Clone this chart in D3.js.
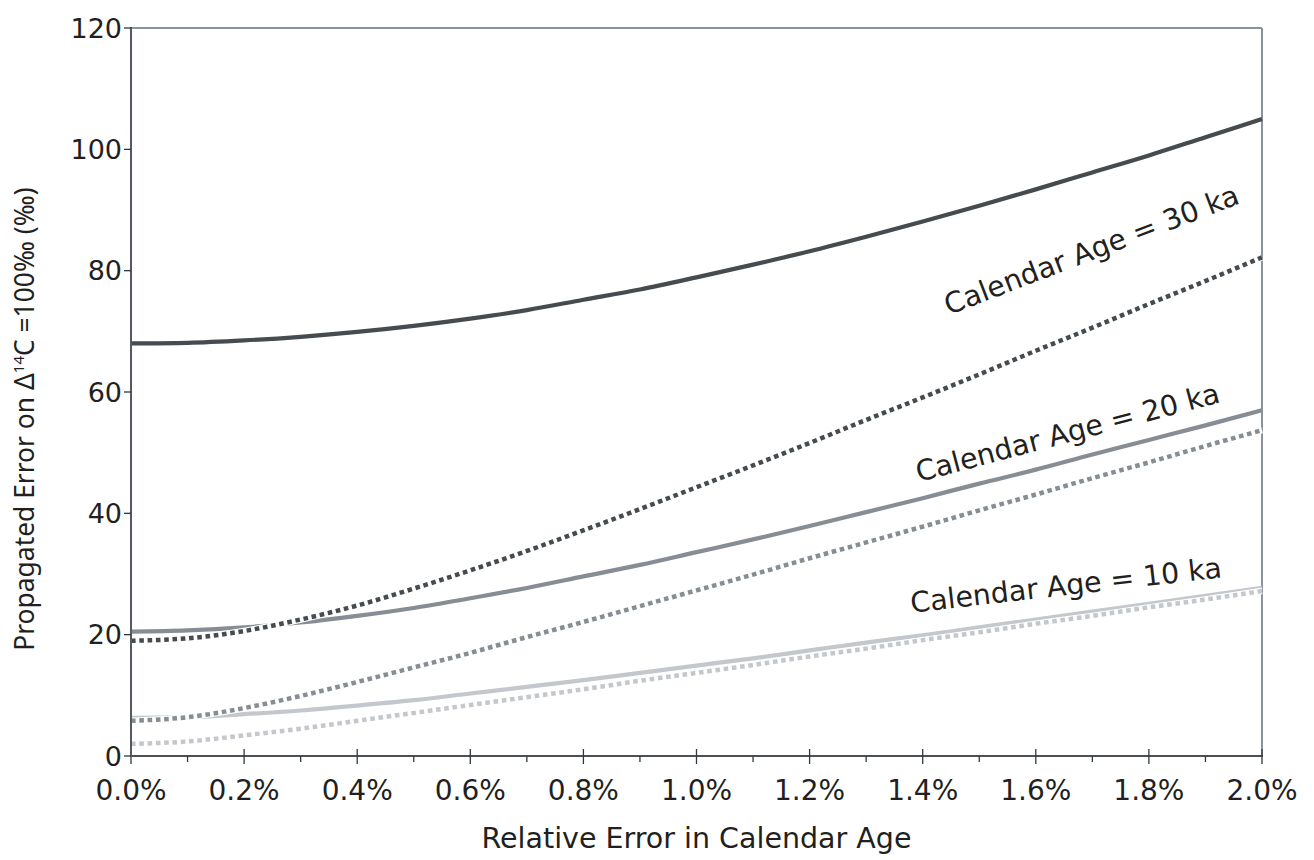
<!DOCTYPE html>
<html>
<head>
<meta charset="utf-8">
<script src="https://cdn.jsdelivr.net/npm/d3@7"></script>
<style>
  html, body { margin: 0; padding: 0; background: #fff; }
  svg { display: block; }
</style>
</head>
<body>
<svg id="chart" width="1314" height="860"></svg>
<script>
// Relative error in calendar age (%), sampled every 0.1 %
const relErr = [0.0, 0.1, 0.2, 0.3, 0.4, 0.5, 0.6, 0.7, 0.8, 0.9, 1.0,
                1.1, 1.2, 1.3, 1.4, 1.5, 1.6, 1.7, 1.8, 1.9, 2.0];

// Propagated error on Δ14C (‰) – solid and dotted curve per calendar age
const age30Solid  = [68.0, 68.1, 68.5, 69.1, 69.9, 70.9, 72.1, 73.5, 75.2, 76.9, 78.9,
                     81.0, 83.2, 85.6, 88.1, 90.7, 93.4, 96.2, 99.0, 102.0, 105.0];
const age30Dotted = [19.0, 19.4, 20.6, 22.5, 24.8, 27.6, 30.6, 33.8, 37.2, 40.7, 44.3,
                     47.9, 51.6, 55.4, 59.1, 62.9, 66.8, 70.6, 74.5, 78.3, 82.2];
const age20Solid  = [20.5, 20.7, 21.2, 22.0, 23.1, 24.4, 26.0, 27.7, 29.6, 31.5, 33.6,
                     35.7, 37.9, 40.2, 42.5, 44.9, 47.2, 49.7, 52.1, 54.5, 57.0];
const age20Dotted = [5.8, 6.4, 7.9, 9.9, 12.2, 14.6, 17.0, 19.6, 22.1, 24.7, 27.3,
                     29.9, 32.6, 35.2, 37.8, 40.5, 43.1, 45.8, 48.4, 51.1, 53.7];
const age10Solid  = [6.3, 6.4, 6.9, 7.5, 8.3, 9.2, 10.3, 11.4, 12.5, 13.7, 14.9,
                     16.1, 17.4, 18.7, 19.9, 21.2, 22.5, 23.8, 25.1, 26.4, 27.7];
const age10Dotted = [2.0, 2.4, 3.4, 4.5, 5.8, 7.1, 8.4, 9.7, 11.0, 12.4, 13.7,
                     15.0, 16.4, 17.7, 19.1, 20.4, 21.8, 23.1, 24.5, 25.8, 27.2];

const xTickValues = [0.0, 0.2, 0.4, 0.6, 0.8, 1.0, 1.2, 1.4, 1.6, 1.8, 2.0];
const xMinorTicks = [0.1, 0.3, 0.5, 0.7, 0.9, 1.1, 1.3, 1.5, 1.7, 1.9];
const yTickValues = [0, 20, 40, 60, 80, 100, 120];

const curveLabels = ["Calendar Age = 30 ka", "Calendar Age = 20 ka", "Calendar Age = 10 ka"];

const svg = d3.select("#chart");
const m = { left: 131, right: 1262, top: 28, bottom: 756 };

const x = d3.scaleLinear().domain([0, 2]).range([m.left, m.right]);
const y = d3.scaleLinear().domain([0, 120]).range([m.bottom, m.top]);

const textColor = "#231f20";
const tickFont = "DejaVu Sans, Verdana, sans-serif";

// Frame: top and right edges in a lighter grey
svg.append("line").attr("x1", m.left).attr("x2", m.right).attr("y1", m.top).attr("y2", m.top)
  .attr("stroke", "#8c939a").attr("stroke-width", 2);
svg.append("line").attr("x1", m.right).attr("x2", m.right).attr("y1", m.top).attr("y2", m.bottom)
  .attr("stroke", "#8c939a").attr("stroke-width", 2);

// Curves
const line = d3.line()
  .x((d, i) => x(relErr[i]))
  .y(d => y(d))
  .curve(d3.curveMonotoneX);

const series = [
  { values: age30Solid,  color: "#454b4e", dotted: false },
  { values: age20Solid,  color: "#868d94", dotted: false },
  { values: age10Solid,  color: "#c4c8cc", dotted: false },
  { values: age10Dotted, color: "#c4c8cc", dotted: true },
  { values: age20Dotted, color: "#868d94", dotted: true },
  { values: age30Dotted, color: "#454b4e", dotted: true }
];

const curves = svg.append("g");
series.forEach(s => {
  if (s.dotted) {
    curves.append("path").attr("d", line(s.values))
      .attr("fill", "none").attr("stroke", "#fff").attr("stroke-width", 6.5);
    curves.append("path").attr("d", line(s.values))
      .attr("fill", "none").attr("stroke", s.color).attr("stroke-width", 4.5)
      .attr("stroke-dasharray", "4.6,3.7");
  } else {
    curves.append("path").attr("d", line(s.values))
      .attr("fill", "none").attr("stroke", s.color).attr("stroke-width", 4.2);
  }
});

// X axis with major and minor ticks
const xAxis = svg.append("g").attr("transform", `translate(0,${m.bottom})`);
xAxis.append("line").attr("x1", m.left).attr("x2", m.right + 1)
  .attr("stroke", "#4b5055").attr("stroke-width", 2);
xAxis.selectAll(".major").data(xTickValues).enter().append("line")
  .attr("x1", d => x(d)).attr("x2", d => x(d)).attr("y1", -7).attr("y2", 8)
  .attr("stroke", "#33383c").attr("stroke-width", 1.3);
xAxis.selectAll(".minor").data(xMinorTicks).enter().append("line")
  .attr("x1", d => x(d)).attr("x2", d => x(d)).attr("y1", 0).attr("y2", 6)
  .attr("stroke", "#33383c").attr("stroke-width", 1.3);
xAxis.selectAll("text").data(xTickValues).enter().append("text")
  .attr("x", d => x(d)).attr("y", 44)
  .attr("text-anchor", "middle")
  .attr("font-family", tickFont).attr("font-size", 28).attr("fill", textColor)
  .text(d => d3.format(".1f")(d) + "%");

// Y axis
const yAxis = svg.append("g").attr("transform", `translate(${m.left},0)`);
yAxis.append("line").attr("y1", m.top - 1).attr("y2", m.bottom + 1)
  .attr("stroke", "#555a60").attr("stroke-width", 2);
yAxis.selectAll(".tick").data(yTickValues).enter().append("line")
  .attr("x1", -7).attr("x2", 0).attr("y1", d => y(d)).attr("y2", d => y(d))
  .attr("stroke", "#33383c").attr("stroke-width", 1.3);
yAxis.selectAll("text").data(yTickValues).enter().append("text")
  .attr("x", -9).attr("y", d => y(d)).attr("dy", "0.36em")
  .attr("text-anchor", "end")
  .attr("font-family", tickFont).attr("font-size", 27).attr("fill", textColor)
  .text(d => d);

// Axis titles
svg.append("text")
  .attr("x", (m.left + m.right) / 2).attr("y", 848)
  .attr("text-anchor", "middle")
  .attr("font-family", tickFont).attr("font-size", 28.5).attr("fill", textColor)
  .text("Relative Error in Calendar Age");

const yTitle = svg.append("text")
  .attr("transform", "translate(34,419) rotate(-90)")
  .attr("text-anchor", "middle")
  .attr("font-family", "Noto Sans, Open Sans, sans-serif").attr("font-size", 26.4)
  .attr("fill", textColor);
yTitle.append("tspan").text("Propagated Error on Δ");
yTitle.append("tspan").attr("font-size", 15).attr("dy", -10).text("14");
yTitle.append("tspan").attr("dy", 10).text("C  =100‰ (‰)");

// Curve labels, rotated along their curves
const labelPos = [
  { cx: 1095, cy: 259, angle: -21 },
  { cx: 1070, cy: 442, angle: -14.8 },
  { cx: 1067, cy: 595, angle: -6.5 }
];
curveLabels.forEach((t, i) => {
  const p = labelPos[i];
  svg.append("text")
    .attr("transform", `translate(${p.cx},${p.cy}) rotate(${p.angle})`)
    .attr("text-anchor", "middle")
    .attr("font-family", tickFont).attr("font-size", 28.5).attr("fill", textColor)
    .text(t);
});
</script>
</body>
</html>
